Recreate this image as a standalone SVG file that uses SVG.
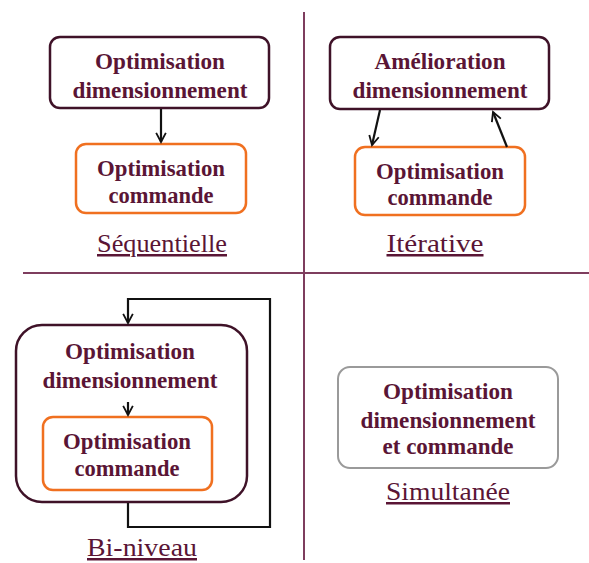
<svg xmlns="http://www.w3.org/2000/svg" width="589" height="563" viewBox="0 0 589 563">
  <style>
    .t { font-family: 'Liberation Serif', 'Times New Roman', serif; font-weight: bold; font-size: 23px; fill: #5a1535; text-anchor: middle; }
    .lbl { font-family: 'Liberation Serif', 'Times New Roman', serif; font-size: 25px; fill: #5a1535; text-anchor: middle; text-decoration: underline; }
    .main { fill: #ffffff; stroke: #3f1228; stroke-width: 2.5; }
    .sub { fill: #ffffff; stroke: #f07020; stroke-width: 2.5; }
    .grey { fill: #ffffff; stroke: #9a9a9a; stroke-width: 2; }
    .sep { stroke: #7e3d5e; stroke-width: 2; fill: none; }
    .arrow { stroke: #111111; stroke-width: 2.2; fill: none; marker-end: url(#head); }
  </style>
  <defs>
    <marker id="head" viewBox="0 0 10 10" refX="8.5" refY="5" markerWidth="5.5" markerHeight="5.5" orient="auto" markerUnits="strokeWidth">
      <path d="M1,1 L8.5,5 L1,9" fill="none" stroke="#111111" stroke-width="1.5"/>
    </marker>
  </defs>
  <rect width="589" height="563" fill="#ffffff"/>

  <!-- quadrant separators -->
  <g id="separators">
    <line class="sep" x1="23" y1="273" x2="589" y2="273"/>
    <line class="sep" x1="304" y1="12" x2="304" y2="560"/>
  </g>

  <!-- sequential -->
  <g id="seq-dim">
    <rect class="main" x="50" y="37" width="219" height="71" rx="10"/>
    <text class="t" x="160" y="69" textLength="130" lengthAdjust="spacingAndGlyphs">Optimisation</text>
    <text class="t" x="160" y="98" textLength="175" lengthAdjust="spacingAndGlyphs">dimensionnement</text>
  </g>
  <g id="seq-cmd">
    <rect class="sub" x="76" y="144" width="170" height="69" rx="10"/>
    <text class="t" x="161" y="176" textLength="128" lengthAdjust="spacingAndGlyphs">Optimisation</text>
    <text class="t" x="161" y="203" textLength="105" lengthAdjust="spacingAndGlyphs">commande</text>
  </g>
  <text class="lbl" x="162" y="252" textLength="130" lengthAdjust="spacingAndGlyphs">Séquentielle</text>

  <!-- iterative -->
  <g id="it-dim">
    <rect class="main" x="330" y="37" width="219" height="72" rx="10"/>
    <text class="t" x="440" y="69" textLength="131" lengthAdjust="spacingAndGlyphs">Amélioration</text>
    <text class="t" x="440" y="98" textLength="175" lengthAdjust="spacingAndGlyphs">dimensionnement</text>
  </g>
  <g id="it-cmd">
    <rect class="sub" x="355" y="147" width="170" height="68" rx="10"/>
    <text class="t" x="440" y="179" textLength="128" lengthAdjust="spacingAndGlyphs">Optimisation</text>
    <text class="t" x="440" y="205" textLength="105" lengthAdjust="spacingAndGlyphs">commande</text>
  </g>
  <text class="lbl" x="435" y="252" textLength="97" lengthAdjust="spacingAndGlyphs">Itérative</text>

  <!-- bi-level -->
  <g id="bi-outer">
    <rect class="main" x="16" y="325" width="231" height="177" rx="26"/>
    <text class="t" x="130" y="359" textLength="130" lengthAdjust="spacingAndGlyphs">Optimisation</text>
    <text class="t" x="130" y="388" textLength="175" lengthAdjust="spacingAndGlyphs">dimensionnement</text>
  </g>
  <g id="bi-cmd">
    <rect class="sub" x="43" y="417" width="169" height="73" rx="10"/>
    <text class="t" x="127" y="449" textLength="128" lengthAdjust="spacingAndGlyphs">Optimisation</text>
    <text class="t" x="127" y="476" textLength="105" lengthAdjust="spacingAndGlyphs">commande</text>
  </g>
  <text class="lbl" x="142" y="556" textLength="110" lengthAdjust="spacingAndGlyphs">Bi-niveau</text>

  <!-- simultaneous -->
  <g id="sim">
    <rect class="grey" x="338" y="367" width="220" height="101" rx="12"/>
    <text class="t" x="448" y="399" textLength="130" lengthAdjust="spacingAndGlyphs">Optimisation</text>
    <text class="t" x="448" y="428" textLength="175" lengthAdjust="spacingAndGlyphs">dimensionnement</text>
    <text class="t" x="448" y="454" textLength="131" lengthAdjust="spacingAndGlyphs">et commande</text>
  </g>
  <text class="lbl" x="448" y="500" textLength="124" lengthAdjust="spacingAndGlyphs">Simultanée</text>

  <!-- connectors -->
  <g id="connectors">
    <line class="arrow" x1="161" y1="109" x2="161" y2="142"/>
    <line class="arrow" x1="380" y1="110" x2="372" y2="145"/>
    <line class="arrow" x1="507" y1="147" x2="493" y2="112"/>
    <line class="arrow" x1="128" y1="402" x2="128" y2="415"/>
    <polyline class="arrow" points="128,503 128,527 270,527 270,299 128,299 128,323"/>
  </g>
</svg>
